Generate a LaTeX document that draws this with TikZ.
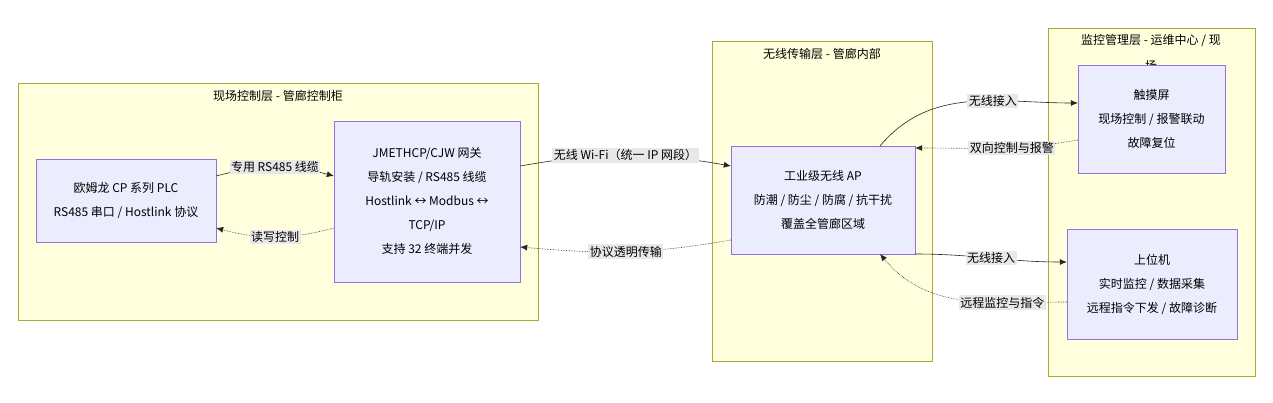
\documentclass[tikz,border=0pt]{standalone}
\usepackage{fontspec}
\setmainfont{Noto Sans CJK SC}
\usetikzlibrary{arrows.meta}
\definecolor{clusterfill}{HTML}{FFFFDE}
\definecolor{clusterline}{HTML}{AAAA33}
\definecolor{nodefill}{HTML}{ECECFF}
\definecolor{nodeline}{HTML}{9370DB}
\definecolor{labelfill}{HTML}{E8E8E8}
\tikzset{
  layer/.style={draw=clusterline, fill=clusterfill},
  box/.style={draw=nodeline, fill=nodefill, align=center, font=\fontsize{12}{24}\selectfont},
  title/.style={font=\fontsize{12}{14}\selectfont},
  lbl/.style={fill=labelfill, inner sep=1.5pt, font=\fontsize{12}{14}\selectfont},
  link/.style={-{Latex[length=7pt,width=6pt]}, draw=black!85, semithick},
  back/.style={link, densely dotted}
}
\begin{document}
\begin{tikzpicture}[x=1pt,y=-1pt]
\useasboundingbox (0,0) rectangle (1273,403);

%% layers
\draw[layer] (18,83) rectangle (538,320);
\draw[layer] (712,41) rectangle (932,361);
\draw[layer] (1048,28) rectangle (1255,376);
\node[title] at (278,96) {现场控制层 - 管廊控制柜};
\node[title] at (822,54) {无线传输层 - 管廊内部};
\node[title] at (1151,41) {监控管理层 - 运维中心 / 现};
\node[title] at (1151,66) {场};

%% devices
\node[box, minimum width=180, minimum height=83] (plc) at (126,200.5)
  {欧姆龙 CP 系列 PLC\\RS485 串口 / Hostlink 协议};
\node[box, minimum width=186, minimum height=161] (gw) at (427,201.5)
  {JMETHCP/CJW 网关\\导轨安装 / RS485 线缆\\Hostlink ↔ Modbus ↔\\TCP/IP\\支持 32 终端并发};
\node[box, minimum width=184, minimum height=108] (ap) at (823,200)
  {工业级无线 AP\\防潮 / 防尘 / 防腐 / 抗干扰\\覆盖全管廊区域};
\node[box, minimum width=147, minimum height=108] (touch) at (1151.5,119)
  {触摸屏\\现场控制 / 报警联动\\故障复位};
\node[box, minimum width=170, minimum height=110] (pc) at (1152,284)
  {上位机\\实时监控 / 数据采集\\远程指令下发 / 故障诊断};

%% links
\draw[link] (plc.east |- 0,176) to[out=15,in=165] node[lbl] {专用 RS485 线缆} (gw.west |- 0,176);
\draw[back] (gw.west |- 0,228) to[out=195,in=-15] node[lbl] {读写控制} (plc.east |- 0,228);
\draw[link] (gw.east |- 0,166) to[out=10,in=170] node[lbl] {无线 Wi-Fi（统一 IP 网段）} (ap.west |- 0,166);
\draw[back] (ap.west |- 0,240) to[out=190,in=-5] node[lbl] {协议透明传输} (gw.east |- 0,247);
\draw[link] (880,146) to[out=50,in=180] node[lbl, pos=0.62] {无线接入} (touch.west |- 0,103);
\draw[back] (touch.west |- 0,140) to[out=190,in=0] node[lbl, pos=0.4] {双向控制与报警} (ap.east |- 0,148);
\draw[link] (ap.east |- 0,254) to[out=0,in=180] node[lbl, pos=0.5] {无线接入} (pc.west |- 0,262);
\draw[back] (pc.west |- 0,302) to[out=180,in=-50] node[lbl, pos=0.3] {远程监控与指令} (880,254);
\end{tikzpicture}
\end{document}
